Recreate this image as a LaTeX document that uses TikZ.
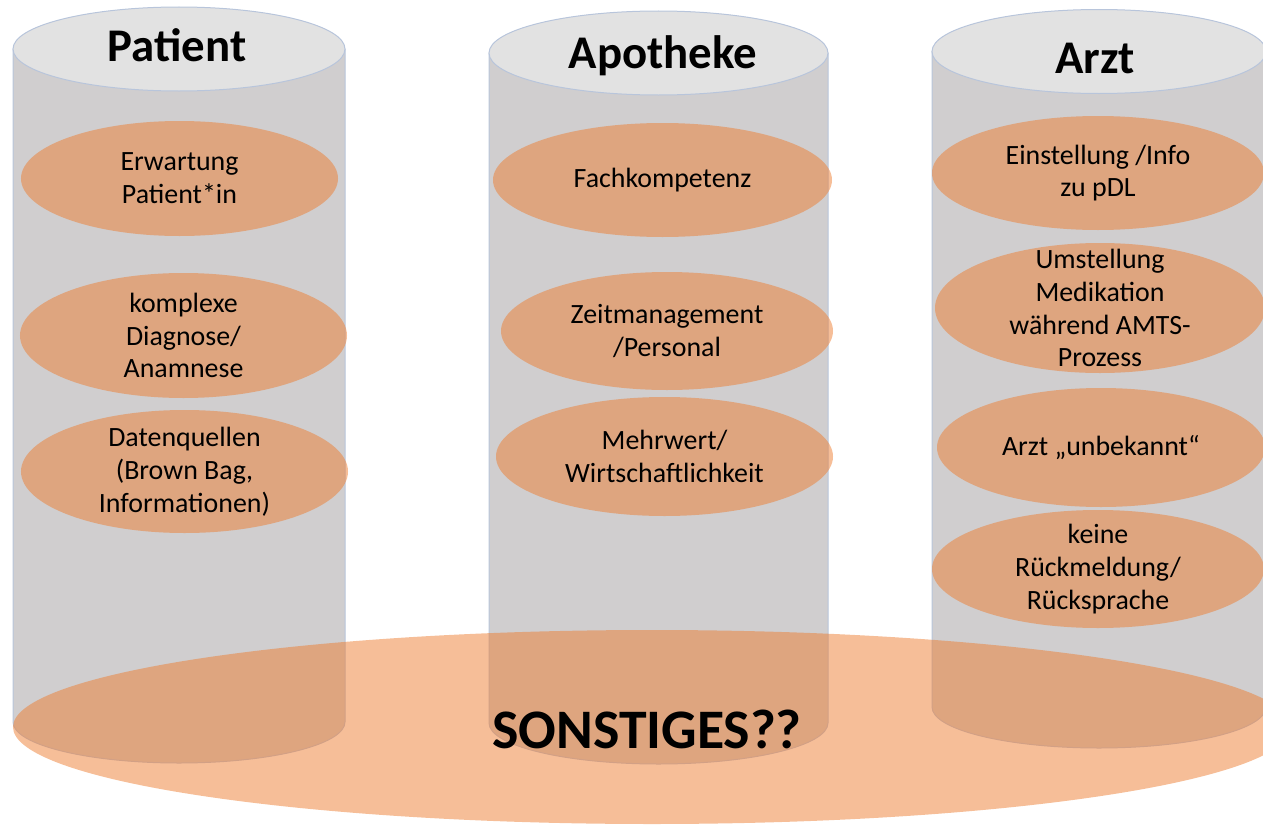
\documentclass[tikz,border=0pt]{standalone}
\usepackage{fontspec}
\setmainfont{Carlito}
\definecolor{cylgrey}{HTML}{D0CECF}
\definecolor{cyllid}{HTML}{E2E2E2}
\definecolor{cylline}{HTML}{B8C5DB}
\definecolor{blobor}{HTML}{ED7D31}
\tikzset{
  cylbody/.style={fill=cylgrey,draw=cylline,line width=1bp},
  cyltop/.style={fill=cyllid,draw=cylline,line width=1bp},
  blob/.style={fill=blobor,fill opacity=0.5},
  blobtext/.style={align=center,inner sep=0pt,font=\fontsize{28}{33}\selectfont},
  coltitle/.style={anchor=base,inner sep=0pt,font=\bfseries\fontsize{47}{56}\selectfont}
}

\begin{document}
\begin{tikzpicture}[x=1bp,y=-1bp]
  \path[use as bounding box,clip] (0,0) rectangle (1263,825);

  % columns
  \draw[cylbody] (13,49) -- (13,722) arc (180:360:166bp and 41bp) -- (345,49) -- cycle;
  \draw[cyltop] (179,49) ellipse (166bp and 42bp);
  \draw[cylbody] (489,53) -- (489,723) arc (180:360:169.5bp and 41bp) -- (828,53) -- cycle;
  \draw[cyltop] (658.5,53) ellipse (169.5bp and 42bp);
  \draw[cylbody] (932,51.5) -- (932,707) arc (180:360:167bp and 41bp) -- (1266,51.5) -- cycle;
  \draw[cyltop] (1099,51.5) ellipse (167bp and 42bp);

  \node[coltitle] (patient) at (177,61) {Patient};
  \node[coltitle] (apotheke) at (663,68) {Apotheke};
  \node[coltitle] (arzt) at (1095,73) {Arzt};

  % Patient
  \fill[blob] (179.5,178.5) ellipse (158.5bp and 57.5bp);
  \node[blobtext] (erwartung) at (179.5,178.5) {Erwartung\\Patient*in};
  \fill[blob] (183.5,335.5) ellipse (163.5bp and 62.5bp);
  \node[blobtext] (diagnose) at (183.5,335.5) {komplexe\\Diagnose/\\Anamnese};
  \fill[blob] (184.5,471.5) ellipse (163.5bp and 61.5bp);
  \node[blobtext] (datenquellen) at (184.5,471.5) {Datenquellen\\(Brown Bag,\\Informationen)};

  % Apotheke
  \fill[blob] (662.5,180) ellipse (169.5bp and 57bp);
  \node[blobtext] (fachkompetenz) at (662.5,180) {Fachkompetenz};
  \fill[blob] (667,331) ellipse (166bp and 59bp);
  \node[blobtext] (zeit) at (667,331) {Zeitmanagement\\/Personal};
  \fill[blob] (664.5,456.5) ellipse (168.5bp and 59.5bp);
  \node[blobtext] (mehrwert) at (664.5,456.5) {Mehrwert/\\Wirtschaftlichkeit};

  % Arzt
  \fill[blob] (1098,173) ellipse (166bp and 57bp);
  \node[blobtext] (einstellung) at (1098,173) {Einstellung /Info\\zu pDL};
  \fill[blob] (1100,308) ellipse (165bp and 65bp);
  \node[blobtext] (umstellung) at (1100,308) {Umstellung\\Medikation\\während AMTS-\\Prozess};
  \fill[blob] (1101,447.5) ellipse (164bp and 59.5bp);
  \node[blobtext] (unbekannt) at (1101,447.5) {Arzt „unbekannt“};
  \fill[blob] (1098,569) ellipse (166bp and 59bp);
  \node[blobtext] (rueckmeldung) at (1098,569) {keine\\Rückmeldung/\\Rücksprache};

  % ground
  \fill[blob] (652,727) ellipse (639bp and 97bp);
  \node[anchor=base,inner sep=0pt,font=\bfseries\fontsize{56}{66}\selectfont] (sonstiges) at (647,748) {SONSTIGES??};

\end{tikzpicture}
\end{document}
